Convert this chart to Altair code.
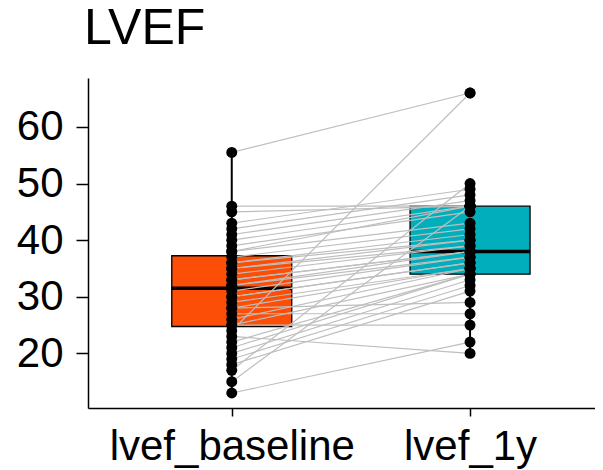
import altair as alt
import pandas as pd

categories = ["lvef_baseline", "lvef_1y"]
lvef_baseline = [55.5, 24, 17, 13, 23, 46, 45, 43, 42, 41, 40, 39, 38, 38, 37, 36, 36, 35, 35, 34,
                 33, 33, 32, 32, 31, 30, 30, 29, 28, 28, 27, 26, 25, 25, 22, 21, 20, 19, 18, 15]
lvef_1y = [66, 66, 50, 22, 20, 46, 46, 49, 48, 47, 46, 45, 46, 43, 42, 41, 40, 40, 39, 39,
           38, 38, 38, 37, 37, 36, 36, 35, 29, 35, 27, 35, 25, 34, 34, 34, 33, 32, 31, 46]
box_colors = ["#FC4E07", "#00AFBB"]
y_ticks = [20, 30, 40, 50, 60]

FONT = "Liberation Sans"

rows = []
for i, (a, b) in enumerate(zip(lvef_baseline, lvef_1y)):
    rows.append({"id": i, "time": categories[0], "value": a})
    rows.append({"id": i, "time": categories[1], "value": b})
df = pd.DataFrame(rows)

stats = []
for cat, vals in zip(categories, [lvef_baseline, lvef_1y]):
    s = pd.Series(vals, dtype=float)
    q1, med, q3 = s.quantile(0.25), s.quantile(0.5), s.quantile(0.75)
    iqr = q3 - q1
    lo = s[s >= q1 - 1.5 * iqr].min()
    hi = s[s <= q3 + 1.5 * iqr].max()
    stats.append({"time": cat, "q1": q1, "median": med, "q3": q3, "lo": lo, "hi": hi})
stats = pd.DataFrame(stats)

x_enc = alt.X(
    "time:N",
    sort=categories,
    scale=alt.Scale(type="point", padding=0.5638, align=0.535),
    axis=alt.Axis(
        title=None, labelAngle=0, labelFontSize=42, labelFont=FONT, labelColor="black",
        domainColor="black", domainWidth=1.5, tickColor="black", tickWidth=1.5,
        tickSize=8, labelPadding=10, grid=False, labelLimit=0,
    ),
)
y_scale = alt.Scale(domain=[10.35, 68.65], nice=False, zero=False)
y_axis = alt.Axis(
    title=None, values=y_ticks, labelFontSize=42, labelFont=FONT, labelColor="black",
    domainColor="black", domainWidth=1.5, tickColor="black", tickWidth=1.5,
    tickSize=12, labelPadding=13, grid=False,
)

base_stats = alt.Chart(stats)

whisker = base_stats.mark_rule(color="black", strokeWidth=2).encode(
    x=x_enc,
    y=alt.Y("lo:Q", scale=y_scale, axis=y_axis),
    y2="hi:Q",
)

box = base_stats.mark_bar(size=120, stroke="black", strokeWidth=1.3).encode(
    x=x_enc,
    y=alt.Y("q1:Q", scale=y_scale),
    y2="q3:Q",
    fill=alt.Fill("time:N", scale=alt.Scale(domain=categories, range=box_colors), legend=None),
)

median = base_stats.mark_tick(size=120, thickness=3.5, color="black", opacity=1).encode(
    x=x_enc,
    y=alt.Y("median:Q", scale=y_scale),
)

lines = alt.Chart(df).mark_line(color="#BEBEBE", strokeWidth=1.2).encode(
    x=x_enc,
    y=alt.Y("value:Q", scale=y_scale),
    detail="id:N",
)

points = alt.Chart(df).mark_circle(size=120, color="black", opacity=1).encode(
    x=x_enc,
    y=alt.Y("value:Q", scale=y_scale),
)

chart = alt.layer(whisker, box, median, lines, points).properties(
    width=507,
    height=330,
    autosize=alt.AutoSizeParams(type="none"),
    padding={"left": 80, "top": 70, "right": 0, "bottom": 62},
    title=alt.TitleParams(
        "LVEF", anchor="start", frame="group", fontSize=50, font=FONT,
        fontWeight="normal", color="black", offset=24, dx=-4,
    ),
).configure_view(stroke=None)

chart.save("out.html", embed_options={"renderer": "svg", "actions": False})
